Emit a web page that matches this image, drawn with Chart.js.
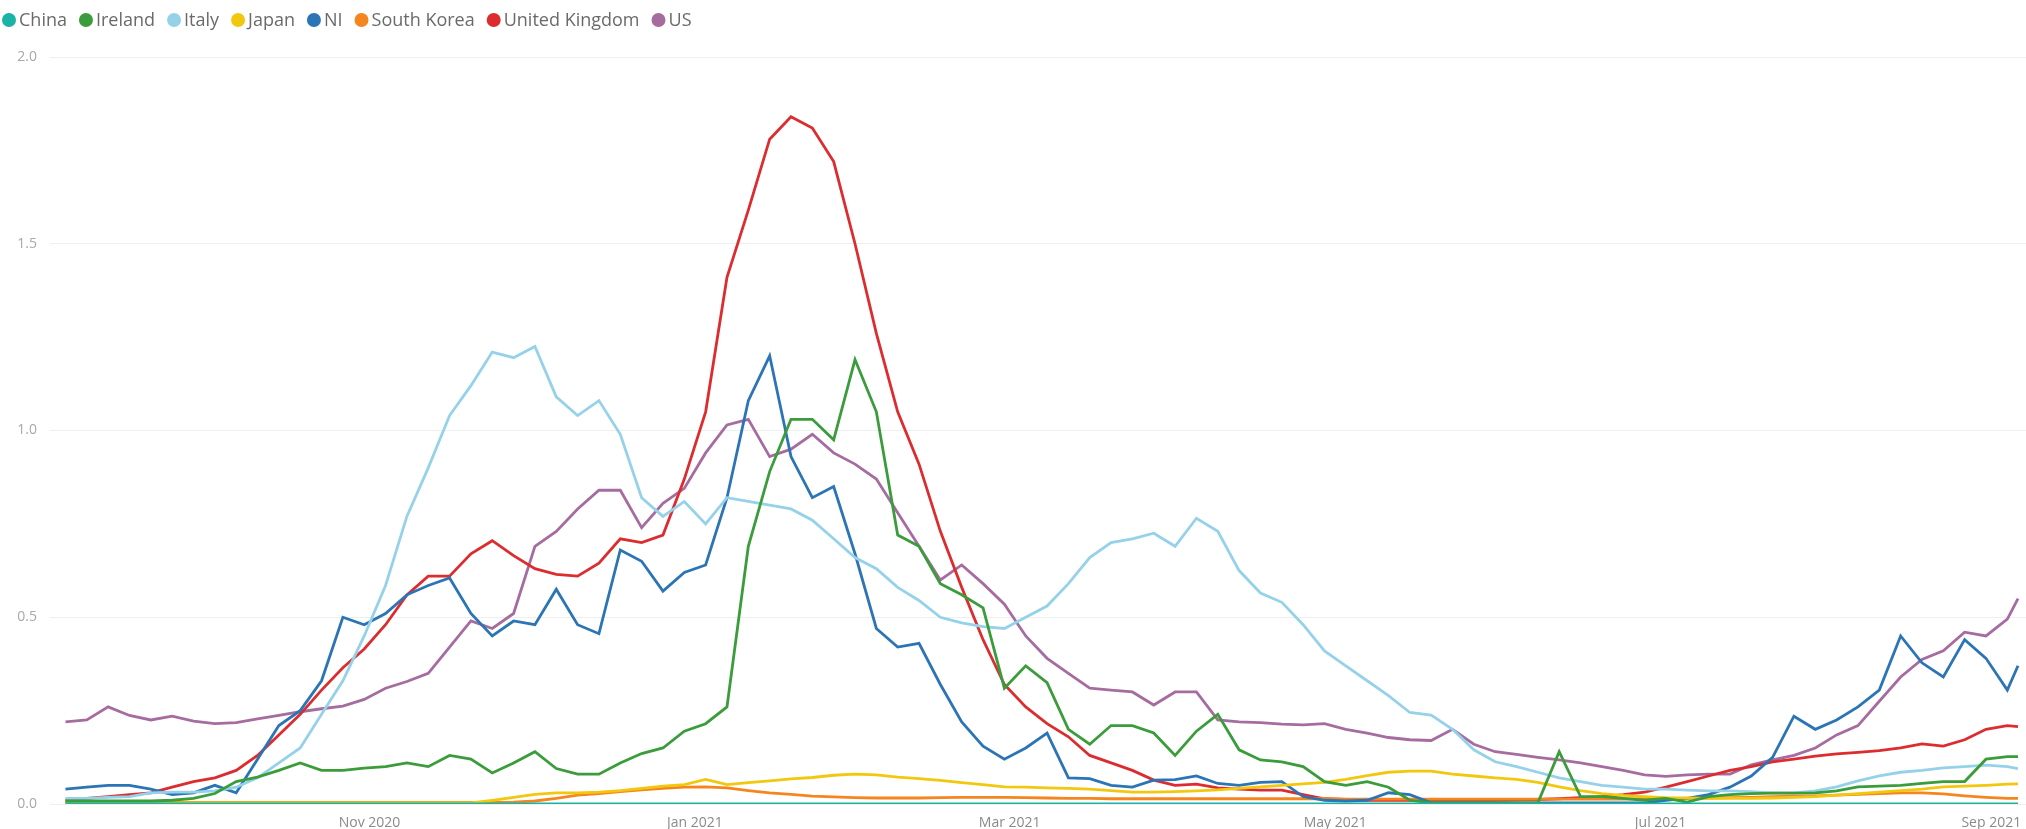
<!DOCTYPE html>
<html>
<head>
<meta charset="utf-8">
<title>Rate by country</title>
<script src="https://cdn.jsdelivr.net/npm/chart.js@4.4.1/dist/chart.umd.min.js"></script>
<style>
  html, body { margin: 0; padding: 0; background: #fff; }
  #wrap { width: 2026px; height: 829px; position: relative; }
</style>
</head>
<body>
<div id="wrap"><canvas id="chart" width="2026" height="829"></canvas></div>
<script>
// days since 2020-09-01
const days = [
  4, 8, 12, 16, 20, 24, 28, 32, 36, 40,
  44, 48, 52, 56, 60, 64, 68, 72, 76, 80,
  84, 88, 92, 96, 100, 104, 108, 112, 116, 120,
  124, 128, 132, 136, 140, 144, 148, 152, 156, 160,
  164, 168, 172, 176, 180, 184, 188, 192, 196, 200,
  204, 208, 212, 216, 220, 224, 228, 232, 236, 240,
  244, 248, 252, 256, 260, 264, 268, 272, 276, 280,
  284, 288, 292, 296, 300, 304, 308, 312, 316, 320,
  324, 328, 332, 336, 340, 344, 348, 352, 356, 360,
  364, 368, 370
];

const china = [
  0, 0, 0, 0, 0, 0, 0, 0, 0, 0,
  0, 0, 0, 0, 0, 0, 0, 0, 0, 0,
  0, 0, 0, 0, 0, 0, 0, 0, 0, 0,
  0, 0, 0, 0, 0, 0, 0, 0, 0, 0,
  0, 0, 0, 0, 0, 0, 0, 0, 0, 0,
  0, 0, 0, 0, 0, 0, 0, 0, 0, 0,
  0, 0, 0, 0, 0, 0, 0, 0, 0, 0,
  0, 0, 0, 0, 0, 0, 0, 0, 0, 0,
  0, 0, 0, 0, 0, 0, 0, 0, 0, 0,
  0, 0, 0
];

const ireland = [
  0.008, 0.008, 0.008, 0.008, 0.008, 0.01, 0.015, 0.028, 0.06, 0.072,
  0.09, 0.11, 0.09, 0.09, 0.096, 0.1, 0.11, 0.10, 0.13, 0.12,
  0.083, 0.11, 0.14, 0.095, 0.08, 0.08, 0.11, 0.135, 0.15, 0.195,
  0.215, 0.26, 0.69, 0.89, 1.03, 1.03, 0.975, 1.19, 1.05, 0.72,
  0.69, 0.59, 0.56, 0.525, 0.31, 0.37, 0.325, 0.2, 0.16, 0.21,
  0.21, 0.19, 0.13, 0.195, 0.24, 0.145, 0.118, 0.113, 0.1, 0.06,
  0.05, 0.06, 0.045, 0.01, 0.003, 0.003, 0.003, 0.003, 0.003, 0.003,
  0.14, 0.02, 0.02, 0.015, 0.01, 0.015, 0.005, 0.02, 0.025, 0.028,
  0.029, 0.029, 0.03, 0.035, 0.046, 0.048, 0.05, 0.055, 0.06, 0.06,
  0.12, 0.127, 0.127
];

const italy = [
  0.015, 0.015, 0.018, 0.02, 0.03, 0.032, 0.032, 0.035, 0.045, 0.07,
  0.11, 0.15, 0.24, 0.33, 0.45, 0.585, 0.77, 0.90, 1.04, 1.12,
  1.21, 1.195, 1.225, 1.09, 1.04, 1.08, 0.99, 0.82, 0.77, 0.81,
  0.75, 0.82, 0.81, 0.80, 0.79, 0.76, 0.71, 0.66, 0.63, 0.58,
  0.545, 0.50, 0.485, 0.475, 0.47, 0.50, 0.53, 0.59, 0.66, 0.70,
  0.71, 0.725, 0.69, 0.765, 0.73, 0.625, 0.565, 0.54, 0.48, 0.41,
  0.37, 0.33, 0.29, 0.245, 0.238, 0.2, 0.145, 0.113, 0.1, 0.085,
  0.07, 0.06, 0.05, 0.045, 0.04, 0.04, 0.037, 0.035, 0.035, 0.033,
  0.03, 0.03, 0.035, 0.046, 0.062, 0.075, 0.085, 0.09, 0.097, 0.1,
  0.104, 0.1, 0.095
];

const japan = [
  0.003, 0.003, 0.003, 0.003, 0.003, 0.003, 0.003, 0.003, 0.003, 0.003,
  0.003, 0.003, 0.003, 0.003, 0.003, 0.003, 0.003, 0.003, 0.003, 0.003,
  0.01, 0.018, 0.026, 0.03, 0.03, 0.032, 0.036, 0.042, 0.048, 0.052,
  0.066, 0.052, 0.057, 0.062, 0.067, 0.071, 0.077, 0.08, 0.078, 0.072,
  0.068, 0.063, 0.057, 0.052, 0.046, 0.045, 0.043, 0.042, 0.04, 0.036,
  0.032, 0.032, 0.033, 0.035, 0.038, 0.042, 0.046, 0.05, 0.054, 0.058,
  0.066, 0.076, 0.085, 0.088, 0.088, 0.08, 0.075, 0.07, 0.066, 0.058,
  0.046, 0.036, 0.028, 0.023, 0.02, 0.017, 0.016, 0.015, 0.015, 0.015,
  0.016, 0.018, 0.02, 0.024, 0.028, 0.032, 0.036, 0.04, 0.046, 0.048,
  0.05, 0.053, 0.054
];

const ni = [
  0.04, 0.045, 0.05, 0.05, 0.04, 0.025, 0.03, 0.05, 0.03, 0.12,
  0.21, 0.25, 0.33, 0.5, 0.48, 0.51, 0.56, 0.585, 0.605, 0.51,
  0.45, 0.49, 0.48, 0.575, 0.48, 0.456, 0.68, 0.65, 0.57, 0.62,
  0.64, 0.82, 1.08, 1.2, 0.93, 0.82, 0.85, 0.67, 0.47, 0.42,
  0.43, 0.32, 0.22, 0.155, 0.12, 0.15, 0.19, 0.07, 0.068, 0.05,
  0.045, 0.064, 0.065, 0.075, 0.055, 0.05, 0.058, 0.06, 0.02, 0.01,
  0.008, 0.01, 0.03, 0.025, 0.003, 0.003, 0.003, 0.003, 0.003, 0.003,
  0.003, 0.003, 0.003, 0.003, 0.003, 0.01, 0.015, 0.025, 0.045, 0.075,
  0.125, 0.235, 0.2, 0.225, 0.26, 0.305, 0.45, 0.378, 0.34, 0.44,
  0.39, 0.305, 0.37
];

const southKorea = [
  0.004, 0.004, 0.004, 0.004, 0.004, 0.004, 0.004, 0.004, 0.004, 0.004,
  0.004, 0.004, 0.004, 0.004, 0.004, 0.004, 0.004, 0.004, 0.004, 0.004,
  0.004, 0.005, 0.008, 0.015, 0.024, 0.028, 0.033, 0.038, 0.042, 0.045,
  0.046, 0.043, 0.036, 0.03, 0.026, 0.021, 0.019, 0.017, 0.016, 0.016,
  0.016, 0.017, 0.018, 0.018, 0.018, 0.017, 0.016, 0.015, 0.015, 0.014,
  0.014, 0.014, 0.014, 0.014, 0.014, 0.014, 0.014, 0.014, 0.014, 0.014,
  0.013, 0.013, 0.013, 0.013, 0.013, 0.013, 0.013, 0.013, 0.013, 0.013,
  0.013, 0.013, 0.013, 0.013, 0.014, 0.015, 0.015, 0.016, 0.017, 0.018,
  0.02, 0.021, 0.022, 0.024, 0.026, 0.028, 0.03, 0.03, 0.027, 0.022,
  0.018, 0.015, 0.015
];

const unitedKingdom = [
  0.01, 0.015, 0.02, 0.025, 0.03, 0.045, 0.06, 0.07, 0.09, 0.13,
  0.185, 0.24, 0.305, 0.365, 0.415, 0.48, 0.56, 0.61, 0.61, 0.67,
  0.705, 0.665, 0.63, 0.615, 0.61, 0.645, 0.71, 0.70, 0.72, 0.87,
  1.05, 1.41, 1.59, 1.78, 1.84, 1.81, 1.72, 1.50, 1.26, 1.05,
  0.91, 0.73, 0.58, 0.44, 0.32, 0.26, 0.215, 0.18, 0.13, 0.11,
  0.09, 0.064, 0.05, 0.053, 0.043, 0.04, 0.037, 0.037, 0.025, 0.014,
  0.012, 0.01, 0.01, 0.01, 0.01, 0.01, 0.01, 0.01, 0.011, 0.012,
  0.014, 0.017, 0.02, 0.025, 0.032, 0.045, 0.06, 0.075, 0.09, 0.1,
  0.113, 0.12, 0.128, 0.134, 0.138, 0.143, 0.15, 0.161, 0.155, 0.172,
  0.2, 0.21, 0.207
];

const us = [
  0.22, 0.225, 0.26, 0.237, 0.225, 0.235, 0.222, 0.215, 0.218, 0.228,
  0.237, 0.247, 0.255, 0.262, 0.28, 0.31, 0.328, 0.35, 0.42, 0.49,
  0.47, 0.51, 0.69, 0.73, 0.79, 0.84, 0.84, 0.74, 0.805, 0.845,
  0.94, 1.015, 1.03, 0.93, 0.95, 0.99, 0.94, 0.91, 0.87, 0.78,
  0.69, 0.60, 0.64, 0.59, 0.535, 0.45, 0.39, 0.35, 0.31, 0.305,
  0.30, 0.265, 0.30, 0.30, 0.225, 0.22, 0.218, 0.214, 0.212, 0.215,
  0.2, 0.19, 0.178, 0.172, 0.17, 0.2, 0.16, 0.14, 0.133, 0.125,
  0.118, 0.11, 0.1, 0.09, 0.078, 0.074, 0.078, 0.08, 0.08, 0.105,
  0.118, 0.13, 0.15, 0.185, 0.21, 0.275, 0.34, 0.387, 0.41, 0.46,
  0.45, 0.495, 0.55
];

const seriesNames = ['China', 'Ireland', 'Italy', 'Japan', 'NI', 'South Korea', 'United Kingdom', 'US'];
const seriesValues = [china, ireland, italy, japan, ni, southKorea, unitedKingdom, us];
const seriesColors = ['#1bb3a6', '#3a9c3a', '#95d2ea', '#f2c80f', '#2b74b5', '#f5861f', '#dd2c2f', '#a66ca0'];

// month ticks (days since 2020-09-01) and their labels
const monthTicks = [61, 122, 181, 242, 303, 365];
const monthLabels = ['Nov 2020', 'Jan 2021', 'Mar 2021', 'May 2021', 'Jul 2021', 'Sep 2021'];
const yTicks = [0, 0.5, 1, 1.5, 2];

Chart.defaults.font.family = '"Open Sans", "Noto Sans", sans-serif';

// legend drawn across the top like the original (dot + label)
const topLegend = {
    id: 'topLegend',
    afterDraw(chart) {
        const ctx = chart.ctx;
        ctx.save();
        ctx.font = '18px "Open Sans", sans-serif';
        ctx.textBaseline = 'middle';
        let x = 2;
        const y = 20;
        chart.data.datasets.forEach(ds => {
            ctx.fillStyle = ds.borderColor;
            ctx.beginPath();
            ctx.arc(x + 7, y, 7, 0, Math.PI * 2);
            ctx.fill();
            x += 17;
            ctx.fillStyle = '#6a6a6a';
            ctx.fillText(ds.label, x, y + 1);
            x += ctx.measureText(ds.label).width + 12;
        });
        ctx.restore();
    }
};

const datasets = seriesNames.map((name, i) => ({
    label: name,
    data: days.map((d, k) => ({ x: d, y: seriesValues[i][k] })),
    borderColor: seriesColors[i],
    backgroundColor: seriesColors[i],
    borderWidth: 2.8,
    pointRadius: 0,
    tension: 0,
    fill: false
}));

new Chart(document.getElementById('chart').getContext('2d'), {
    type: 'line',
    data: { datasets },
    plugins: [topLegend],
    options: {
        responsive: false,
        animation: false,
        layout: { padding: { top: 57, right: 0, bottom: 0, left: 0 } },
        plugins: {
            legend: { display: false },
            tooltip: { enabled: false }
        },
        scales: {
            x: {
                type: 'linear',
                min: 1.1,
                max: 371.5,
                grid: { display: false },
                border: { display: false },
                afterBuildTicks: scale => { scale.ticks = monthTicks.map(v => ({ value: v })); },
                afterFit: scale => { scale.height = 25; },
                ticks: {
                    autoSkip: false,
                    maxRotation: 0,
                    padding: 3,
                    color: '#8a8a8a',
                    font: { size: 14 },
                    callback: v => monthLabels[monthTicks.indexOf(v)] ?? ''
                }
            },
            y: {
                min: 0,
                max: 2,
                afterBuildTicks: scale => { scale.ticks = yTicks.map(v => ({ value: v })); },
                afterFit: scale => { scale.width = 50; },
                grid: { color: '#efefef', drawTicks: false, lineWidth: 1 },
                border: { display: false },
                ticks: {
                    padding: 13,
                    color: '#a8a8a8',
                    font: { size: 14 },
                    callback: v => Number(v).toFixed(1)
                }
            }
        }
    }
});
</script>
</body>
</html>
